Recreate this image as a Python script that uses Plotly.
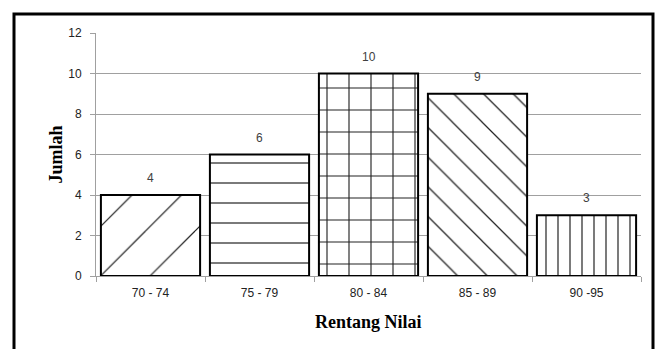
import plotly.graph_objects as go

categories = ["70 - 74", "75 - 79", "80 - 84", "85 - 89", "90 -95"]
counts = [4, 6, 10, 9, 3]
pattern_shapes = ["/", "-", "+", "\\", "|"]
pattern_sizes = [35, 20, 22, 21, 12]
pattern_solidity = [0.035, 0.06, 0.1, 0.06, 0.1]
y_ticks = [0, 2, 4, 6, 8, 10, 12]

W, H = 665, 349
L, R, T, B = 96, 24, 33, 73
pw, ph = W - L - R, H - T - B

def px_x(x):
    return (x - L) / pw

def px_y(y):
    return (H - B - y) / ph

fig = go.Figure()
for cat, val, shp, sz, sol in zip(categories, counts, pattern_shapes, pattern_sizes, pattern_solidity):
    fig.add_trace(go.Bar(
        x=[cat], y=[val],
        marker=dict(
            color="white",
            line=dict(color="black", width=2),
            pattern=dict(shape=shp, size=sz, solidity=sol, fgcolor="#222222",
                         bgcolor="white", fillmode="replace"),
        ),
        showlegend=False,
        hoverinfo="skip",
    ))

for cat, val in zip(categories, counts):
    fig.add_annotation(x=cat, y=val, text=str(val), showarrow=False, yshift=17,
                       xref="x", yref="y",
                       font=dict(family="Liberation Sans", size=12, color="#404040"))

fig.add_annotation(text="<b>Jumlah</b>", textangle=-90, showarrow=False,
                   xref="paper", yref="paper", x=px_x(55), y=0.5,
                   xanchor="center", yanchor="middle",
                   font=dict(family="Liberation Serif", size=18, color="black"))
fig.add_annotation(text="<b>Rentang Nilai</b>", showarrow=False,
                   xref="paper", yref="paper", x=0.5, y=px_y(322),
                   xanchor="center", yanchor="middle",
                   font=dict(family="Liberation Serif", size=18, color="black"))

fig.add_shape(type="rect", xref="paper", yref="paper",
              x0=px_x(14), x1=px_x(653), y0=px_y(14), y1=px_y(360),
              line=dict(color="black", width=3), fillcolor="rgba(0,0,0,0)", layer="above")

fig.update_layout(
    width=W, height=H,
    margin=dict(l=L, r=R, t=T, b=B),
    paper_bgcolor="white", plot_bgcolor="white",
    bargap=0.09,
    font=dict(family="Liberation Sans", size=12, color="#222222"),
)
fig.update_yaxes(range=[0, 12], tickvals=y_ticks, showgrid=True, gridcolor="#a0a0a0",
                 gridwidth=1, showline=True, linecolor="#a0a0a0", linewidth=1,
                 ticks="outside", ticklen=5, tickcolor="#a0a0a0", ticklabelstandoff=6,
                 zeroline=False)
fig.update_xaxes(showline=True, linecolor="#a0a0a0", linewidth=1, ticks="outside",
                 tickson="boundaries", ticklen=5, tickcolor="#a0a0a0",
                 ticklabelstandoff=6, showgrid=False)

fig.write_html("out.html", config={"displayModeBar": False},
               post_script="document.body.style.margin='0';")
